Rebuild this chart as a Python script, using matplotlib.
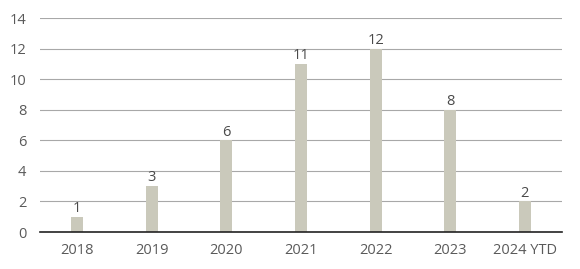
import matplotlib
matplotlib.use("Agg")
import matplotlib.pyplot as plt

categories = ["2018", "2019", "2020", "2021", "2022", "2023", "2024 YTD"]
values = [1, 3, 6, 11, 12, 8, 2]
yticks = [0, 2, 4, 6, 8, 10, 12, 14]

plt.rcParams['font.family'] = ['Open Sans', 'DejaVu Sans']

fig = plt.figure(figsize=(5.8, 2.69), dpi=100)
ax = fig.add_axes([0.069, 0.1375, 0.9, 0.7955])

x = list(range(len(categories)))
bars = ax.bar(x, values, width=0.16, color="#cac9bb", zorder=3)
for xi, v in zip(x, values):
    ax.annotate(str(v), (xi, v), xytext=(0, 0.5), textcoords="offset points",
                ha="center", va="bottom", fontsize=10.5, color="#4a4a4a")

ax.set_xlim(-0.5, len(categories) - 0.5)
ax.set_ylim(0, 14)
ax.set_yticks(yticks)
ax.set_xticks(x)
ax.set_xticklabels(categories)
ax.tick_params(axis="both", length=0, labelsize=10.5, colors="#5a5a5a")
ax.tick_params(axis="y", pad=10)
ax.tick_params(axis="x", pad=8)
ax.grid(axis="y", color="#a8a8a8", linewidth=0.8, zorder=0)
for s in ["top", "right", "left"]:
    ax.spines[s].set_visible(False)
ax.spines["bottom"].set_color("#222222")
ax.spines["bottom"].set_linewidth(1.2)
ax.spines["bottom"].set_zorder(4)

fig.savefig("out.png", dpi=100)
